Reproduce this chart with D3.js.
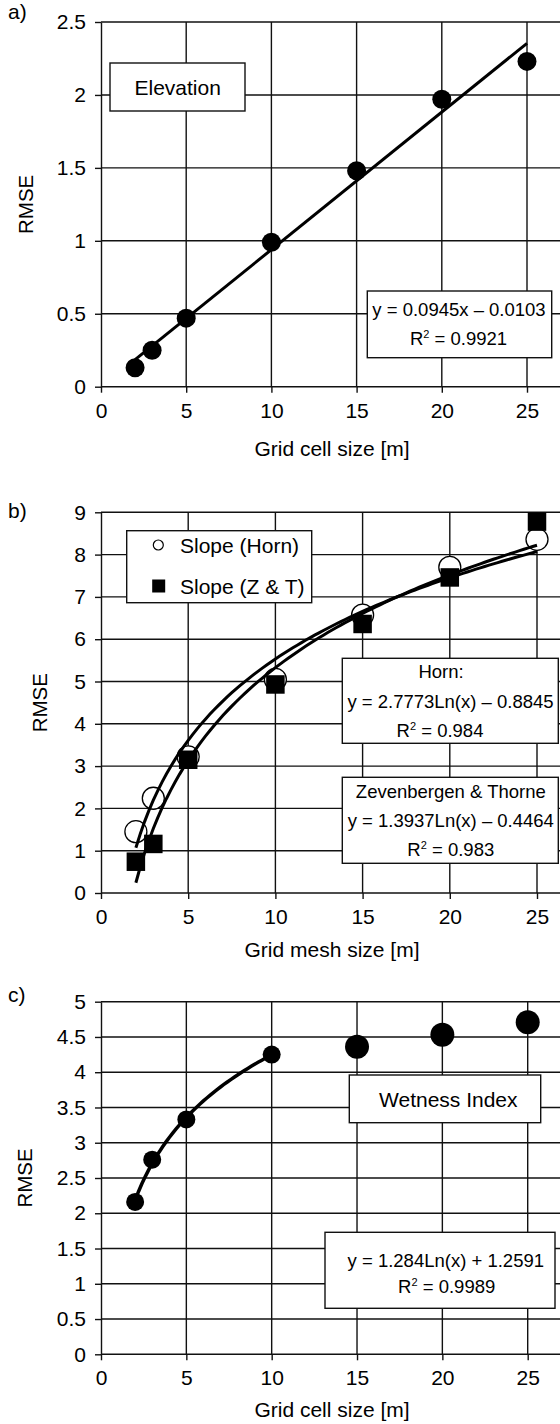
<!DOCTYPE html>
<html>
<head>
<meta charset="utf-8">
<script src="https://cdn.jsdelivr.net/npm/d3@7"></script>
<style>
  body { margin: 0; background: #fff; }
  svg { display: block; }
  text { font-family: "Liberation Sans", Arial, sans-serif; fill: #000; }
</style>
</head>
<body>
<svg id="chart" width="560" height="1424"></svg>
<script>
// grid cell sizes [m]
const gridSizes = [2, 3, 5, 10, 15, 20, 25];
const xTicks = [0, 5, 10, 15, 20, 25];

// a) elevation
const elevationRmse = [0.13, 0.25, 0.47, 0.99, 1.48, 1.97, 2.23];
const elevationTicks = [0, 0.5, 1, 1.5, 2, 2.5];

// b) slope
const slopeHorn = [1.45, 2.24, 3.22, 5.05, 6.57, 7.7, 8.36];
const slopeZT = [0.74, 1.16, 3.15, 4.93, 6.36, 7.46, 8.78];
const slopeTicks = [0, 1, 2, 3, 4, 5, 6, 7, 8, 9];

// c) wetness index (trend fitted on the first four only)
const wetSizesFit = [2, 3, 5, 10];
const wetRmseFit = [2.16, 2.76, 3.33, 4.25];
const wetSizesRest = [15, 20, 25];
const wetRmseRest = [4.36, 4.53, 4.71];
const wetnessTicks = [0, 0.5, 1, 1.5, 2, 2.5, 3, 3.5, 4, 4.5, 5];

const svg = d3.select("#chart");
const LEFT = 101, RIGHT = 560;

// least squares fit, optionally on ln(x)
function fit(xs, ys, useLog) {
    let tx = xs.map(d => useLog ? Math.log(d) : d);
    let mx = d3.mean(tx), my = d3.mean(ys);
    let sxy = d3.sum(tx, (d, i) => (d - mx) * (ys[i] - my));
    let sxx = d3.sum(tx, d => (d - mx) * (d - mx));
    let a = sxy / sxx, b = my - a * mx;
    return x => a * (useLog ? Math.log(x) : x) + b;
}

function panel(o) {
    let g = svg.append("g");
    let x = d3.scaleLinear().domain([0, 25]).range([LEFT, o.x25]);
    let y = d3.scaleLinear().domain([0, o.yMax]).range([o.y0, o.yTop]);

    // grid
    g.selectAll(".hg").data(o.yTicks.slice(1)).join("line")
        .attr("x1", LEFT).attr("x2", RIGHT)
        .attr("y1", d => y(d)).attr("y2", d => y(d))
        .attr("stroke", "#111").attr("stroke-width", 1.4);
    g.selectAll(".vg").data(xTicks.slice(1)).join("line")
        .attr("x1", d => x(d)).attr("x2", d => x(d))
        .attr("y1", y(0)).attr("y2", y(o.yMax))
        .attr("stroke", "#111").attr("stroke-width", 1.4);

    // axes
    let ay = g.append("g").attr("transform", `translate(${LEFT},0)`)
        .call(d3.axisLeft(y).tickValues(o.yTicks).tickSize(6).tickSizeOuter(0)
            .tickPadding(9).tickFormat(d3.format("~g")));
    let ax = g.append("g").attr("transform", `translate(0,${y(0)})`)
        .call(d3.axisBottom(x).tickValues(xTicks).tickSize(6).tickSizeOuter(0).tickPadding(10));
    ax.select(".domain").remove();
    g.append("line").attr("x1", LEFT).attr("x2", RIGHT)
        .attr("y1", y(0)).attr("y2", y(0))
        .attr("stroke", "#111").attr("stroke-width", 1.4);
    [ay, ax].forEach(a => {
        a.attr("font-family", null).attr("font-size", null);
        a.selectAll("text").style("font-size", "21px");
        a.selectAll("line, path").attr("stroke", "#111").attr("stroke-width", 1.4);
    });

    // labels
    svg.append("text").attr("x", 8).attr("y", o.tagY).style("font-size", "21px").text(o.tag);
    svg.append("text")
        .attr("transform", `translate(${o.rmseX},${(o.y0 + o.yTop) / 2}) rotate(-90)`)
        .attr("text-anchor", "middle").style("font-size", "20.5px").text("RMSE");
    svg.append("text").attr("x", 332).attr("y", o.titleY)
        .attr("text-anchor", "middle").style("font-size", "21px").text(o.title);

    return { g, x, y };
}

function box(x0, y0, x1, y1) {
    svg.append("rect").attr("x", x0).attr("y", y0)
        .attr("width", x1 - x0).attr("height", y1 - y0)
        .attr("fill", "#fff").attr("stroke", "#111").attr("stroke-width", 1.4);
}

function line(cx, by, txt, size) {
    return svg.append("text").attr("x", cx).attr("y", by)
        .attr("text-anchor", "middle").style("font-size", (size || 18.5) + "px").text(txt);
}

function r2line(cx, by, val) {
    let t = svg.append("text").attr("x", cx).attr("y", by)
        .attr("text-anchor", "middle").style("font-size", "18.5px");
    t.append("tspan").text("R");
    t.append("tspan").attr("dy", -7).style("font-size", "11px").text("2");
    t.append("tspan").attr("dy", 7).text(" = " + val);
}

// ---------- a) Elevation ----------
let pa = panel({ x25: 527, y0: 386.7, yTop: 22, yMax: 2.5, yTicks: elevationTicks,
    tag: "a)", tagY: 19, rmseX: 33, title: "Grid cell size [m]", titleY: 456 });
let fa = fit(gridSizes, elevationRmse, false);
pa.g.append("line")
    .attr("x1", pa.x(2)).attr("y1", pa.y(fa(2)))
    .attr("x2", pa.x(25)).attr("y2", pa.y(fa(25)))
    .attr("stroke", "#000").attr("stroke-width", 3);
pa.g.selectAll(".pt").data(gridSizes).join("circle")
    .attr("cx", d => pa.x(d)).attr("cy", (d, i) => pa.y(elevationRmse[i]))
    .attr("r", 9.5).attr("fill", "#000");
box(110, 63, 245, 111);
line(177.7, 94.5, "Elevation", 21);
box(367.3, 291, 551.7, 357.7);
line(459, 316, "y = 0.0945x \u2013 0.0103");
r2line(458.5, 344.5, "0.9921");

// ---------- b) Slope ----------
let pb = panel({ x25: 537, y0: 893, yTop: 512.3, yMax: 9, yTicks: slopeTicks,
    tag: "b)", tagY: 518, rmseX: 47, title: "Grid mesh size [m]", titleY: 957 });
pb.g.selectAll(".horn").data(gridSizes).join("circle")
    .attr("cx", d => pb.x(d)).attr("cy", (d, i) => pb.y(slopeHorn[i]))
    .attr("r", 11).attr("fill", "#fff").attr("stroke", "#000").attr("stroke-width", 1.3);
pb.g.selectAll(".zt").data(gridSizes).join("rect")
    .attr("x", d => pb.x(d) - 9.25).attr("y", (d, i) => pb.y(slopeZT[i]) - 9.25)
    .attr("width", 18.5).attr("height", 18.5).attr("fill", "#000");
let xs = d3.range(2, 25.001, 0.25);
[fit(gridSizes, slopeHorn, true), fit(gridSizes, slopeZT, true)].forEach(f => {
    pb.g.append("path")
        .attr("d", d3.line().x(d => pb.x(d)).y(d => pb.y(f(d)))(xs))
        .attr("fill", "none").attr("stroke", "#000").attr("stroke-width", 3);
});
box(126.7, 530.7, 311.7, 602.7);
svg.append("circle").attr("cx", 158.3).attr("cy", 545).attr("r", 5)
    .attr("fill", "#fff").attr("stroke", "#000").attr("stroke-width", 1.2);
svg.append("rect").attr("x", 152.2).attr("y", 579.5).attr("width", 13).attr("height", 13).attr("fill", "#000");
svg.append("text").attr("x", 180).attr("y", 552.5).style("font-size", "21px").text("Slope (Horn)");
svg.append("text").attr("x", 180).attr("y", 593.5).style("font-size", "21px").text("Slope (Z & T)");
box(342.3, 658.3, 558.3, 743.3);
line(441, 678, "Horn:");
line(450.5, 708, "y = 2.7773Ln(x) \u2013 0.8845");
r2line(440, 737, "0.984");
box(342.3, 777.3, 558.3, 863.3);
line(450.8, 798, "Zevenbergen & Thorne");
line(450.8, 827, "y = 1.3937Ln(x) \u2013 0.4464");
r2line(450.8, 856, "0.983");

// ---------- c) Wetness Index ----------
let pc = panel({ x25: 527.7, y0: 1354.3, yTop: 1001.7, yMax: 5, yTicks: wetnessTicks,
    tag: "c)", tagY: 1002, rmseX: 32, title: "Grid cell size [m]", titleY: 1417 });
let fc = fit(wetSizesFit, wetRmseFit, true);
pc.g.append("path")
    .attr("d", d3.line().x(d => pc.x(d)).y(d => pc.y(fc(d)))(d3.range(2, 10.001, 0.2)))
    .attr("fill", "none").attr("stroke", "#000").attr("stroke-width", 3.5);
pc.g.selectAll(".wf").data(wetSizesFit).join("circle")
    .attr("cx", d => pc.x(d)).attr("cy", (d, i) => pc.y(wetRmseFit[i]))
    .attr("r", 9).attr("fill", "#000");
pc.g.selectAll(".wr").data(wetSizesRest).join("circle")
    .attr("cx", d => pc.x(d)).attr("cy", (d, i) => pc.y(wetRmseRest[i]))
    .attr("r", 12).attr("fill", "#000");
box(349.3, 1075, 540.7, 1122.7);
line(448.3, 1106.7, "Wetness Index", 21);
box(325, 1232.3, 555, 1308.3);
line(445.8, 1266.5, "y = 1.284Ln(x) + 1.2591");
r2line(446.7, 1293, "0.9989");
</script>
</body>
</html>
